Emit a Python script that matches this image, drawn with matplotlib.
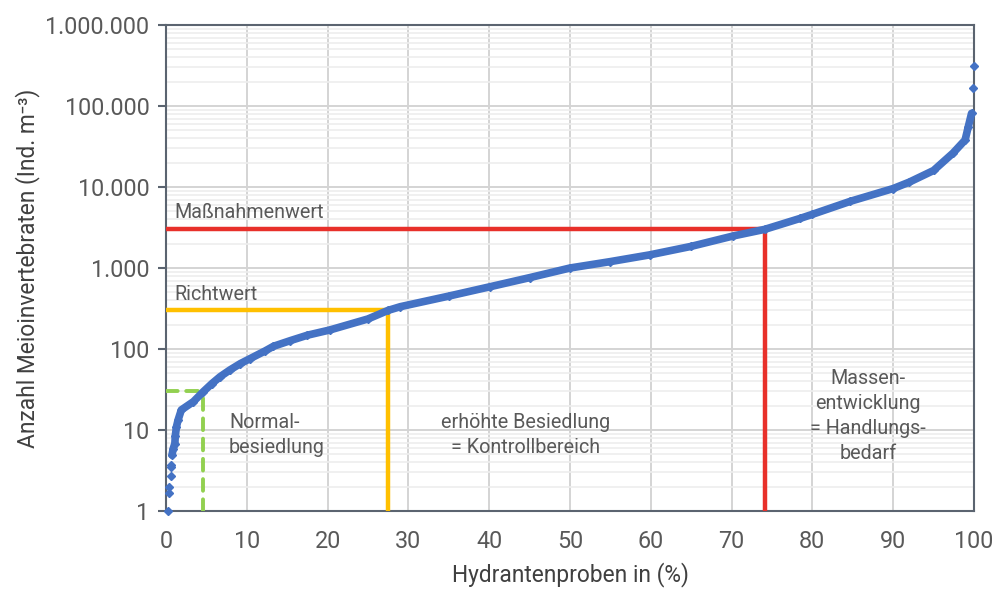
import matplotlib
matplotlib.use("Agg")
import matplotlib.pyplot as plt
from matplotlib.ticker import FixedLocator, LogLocator, NullFormatter

plt.rcParams['font.family'] = ['Roboto', 'DejaVu Sans']

# Sorted sample values (percent of samples vs. count)
pct = [0.25, 0.4, 0.4, 0.6, 0.6, 0.6, 0.74, 0.9, 1.1, 1.15, 1.3, 1.5, 1.9, 3.4,
       4.6, 5.7, 6.7, 7.9, 9.2, 10.4, 12.3, 13.3, 15.4, 17.5, 20.3, 25.0, 27.5,
       29.0, 35.0, 40.1, 45.0, 50.0, 55.0, 59.9, 65.0, 70.2, 74.1, 78.5, 80.0,
       84.7, 90.0, 92.0, 95.0, 97.4, 98.9, 99.3, 99.7, 99.9, 100.0]
count = [1, 1.65, 2.0, 2.73, 3.5, 3.7, 4.9, 5.9, 6.8, 8.4, 11, 13.3, 17.7, 22.4,
         29.6, 37.5, 45.5, 55, 66, 76, 95, 108, 127, 148, 172, 235, 300,
         333, 450, 587, 760, 1000, 1200, 1455, 1850, 2486, 3000, 4100, 4600,
         6660, 9570, 11500, 16000, 26200, 38000, 55700, 81200, 165000, 309000]

# Thresholds
normal_value, normal_pct = 30, 4.6
richtwert_value, richtwert_pct = 300, 27.5
massnahme_value, massnahme_pct = 3000, 74.1

xticks = list(range(0, 101, 10))
yticks = [1, 10, 100, 1000, 10000, 100000, 1000000]
ytick_labels = ["1", "10", "100", "1.000", "10.000", "100.000", "1.000.000"]

blue = "#4472C4"
red = "#E8302A"
yellow = "#FFC000"
green = "#92D050"
txt = "#595959"
spine_c = "#5B6470"

fig = plt.figure(figsize=(10.01, 5.90), dpi=100)
ax = fig.add_axes([0.1658, 0.1339, 0.8072, 0.8237])

ax.set_yscale("log")
ax.set_xlim(0, 100)
ax.set_ylim(1, 1000000)

# grid
ax.yaxis.set_major_locator(FixedLocator(yticks))
ax.yaxis.set_minor_locator(LogLocator(base=10, subs=range(2, 10)))
ax.yaxis.set_minor_formatter(NullFormatter())
ax.set_yticks(yticks)
ax.set_yticklabels(ytick_labels)
ax.set_xticks(xticks)
ax.grid(True, which="major", color="#D4D4D4", linewidth=1.4, zorder=0)
ax.grid(True, which="minor", axis="y", color="#EEEEEE", linewidth=1.2, zorder=0)
ax.set_axisbelow(True)

for s in ax.spines.values():
    s.set_color(spine_c)
    s.set_linewidth(1.5)

ax.tick_params(axis="y", which="major", length=5.8, width=1.5, color=spine_c,
               labelsize=16.8, labelcolor=txt, pad=6)
ax.tick_params(axis="y", which="minor", length=0)
ax.tick_params(axis="x", which="major", length=0, labelsize=16.8,
               labelcolor=txt, pad=14)

# threshold lines
ax.plot([0, massnahme_pct], [massnahme_value, massnahme_value], color=red, lw=3.2,
        solid_capstyle="butt", zorder=3)
ax.plot([massnahme_pct, massnahme_pct], [1, massnahme_value], color=red, lw=3.2,
        solid_capstyle="butt", zorder=3)
ax.plot([0, richtwert_pct], [richtwert_value, richtwert_value], color=yellow, lw=3.2,
        solid_capstyle="round", zorder=3)
ax.plot([richtwert_pct, richtwert_pct], [1, richtwert_value], color=yellow, lw=3.2,
        solid_capstyle="round", zorder=3)
ax.plot([0, normal_pct], [normal_value, normal_value], color=green, lw=2.8,
        dashes=(3, 2.2), dash_capstyle="round", zorder=3)
ax.plot([normal_pct, normal_pct], [1, normal_value], color=green, lw=2.8,
        dashes=(3, 2.2), dash_capstyle="round", zorder=3)

# data curve: dense middle part as thick band, all samples as markers
ax.plot(pct[6:-2], count[6:-2], color=blue, lw=5.5, solid_capstyle="round",
        solid_joinstyle="round", zorder=4, clip_on=False)
ax.plot(pct, count, linestyle="none", marker="D", markersize=3.6, color=blue,
        zorder=5, clip_on=False)

# annotations
fs_ann = 14.2
ax.text(1.1, 4900, "Maßnahmenwert", color=txt, fontsize=fs_ann, ha="left", va="center")
ax.text(1.1, 470, "Richtwert", color=txt, fontsize=fs_ann, ha="left", va="center")
ax.text(7.8, 8.7, "Normal-\nbesiedlung", color=txt, fontsize=fs_ann, ha="left",
        va="center", linespacing=1.4)
ax.text(44.5, 8.7, "erhöhte Besiedlung\n= Kontrollbereich", color=txt, fontsize=fs_ann,
        ha="center", va="center", linespacing=1.4)
ax.text(86.9, 15, "Massen-\nentwicklung\n= Handlungs-\nbedarf", color=txt,
        fontsize=fs_ann, ha="center", va="center", linespacing=1.4)

ax.set_xlabel("Hydrantenproben in (%)", fontsize=16.4, color="#404040", labelpad=6)
ax.set_ylabel("Anzahl Meioinvertebraten (Ind. m\u207b\u00b3)", fontsize=16.4,
              color="#404040", labelpad=4)

fig.savefig("out.png", dpi=100)
